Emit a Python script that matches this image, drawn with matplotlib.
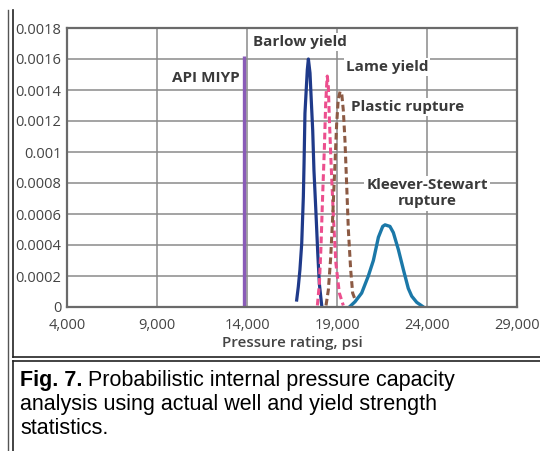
import matplotlib.pyplot as plt
from matplotlib.lines import Line2D

# valores
api_miyp_x = 13850
api_miyp_top = 0.00162

barlow_x = [16760, 16850, 16940, 17040, 17130, 17170, 17220, 17280, 17350, 17410,
            17500, 17560, 17650, 17720, 17830, 17930, 18020, 18150]
barlow_y = [0.000045, 0.00013, 0.00024, 0.00041, 0.00071, 0.00093, 0.00125, 0.00138, 0.00153, 0.0016,
            0.00151, 0.00136, 0.00114, 0.00088, 0.00061, 0.00035, 0.00015, 0.00001]

lame_x = [17910, 18020, 18110, 18200, 18300, 18370, 18430, 18460, 18520, 18570,
          18670, 18800, 18940, 19130, 19350]
lame_y = [0.00001, 0.00015, 0.00039, 0.00071, 0.00103, 0.00131, 0.00144, 0.00149, 0.00142, 0.00123,
          0.00093, 0.00058, 0.00028, 0.00009, 0.00001]

plastic_x = [18390, 18520, 18650, 18760, 18890, 18980, 19070, 19170, 19260, 19350,
             19440, 19540, 19630, 19760, 19870, 20000]
plastic_y = [0.00001, 0.00011, 0.00032, 0.00058, 0.00093, 0.00118, 0.00134, 0.00139, 0.00138, 0.00127,
             0.00108, 0.00078, 0.0005, 0.00024, 0.00009, 0.00005]

kleever_x = [19690, 20000, 20370, 20740, 21020, 21300, 21540, 21670, 21940, 22130,
             22410, 22690, 22960, 23150, 23430, 23800]
kleever_y = [0.0, 0.000034, 0.00009, 0.0002, 0.0003, 0.00045, 0.00052, 0.00053, 0.00052, 0.00048,
             0.00037, 0.00024, 0.00012, 0.00007, 0.00003, 0.0]

x_ticks = [4000, 9000, 14000, 19000, 24000, 29000]
x_tick_labels = ['4,000', '9,000', '14,000', '19,000', '24,000', '29,000']
y_ticks = [0, 0.0002, 0.0004, 0.0006, 0.0008, 0.001, 0.0012, 0.0014, 0.0016, 0.0018]
y_tick_labels = ['0', '0.0002', '0.0004', '0.0006', '0.0008', '0.001', '0.0012', '0.0014', '0.0016', '0.0018']

W, H = 540, 451
fig = plt.figure(figsize=(W / 100, H / 100), dpi=100)
fig.patch.set_facecolor('white')

ax = fig.add_axes([67 / W, 1 - 307 / H, 450 / W, 279 / H])
ax.set_xlim(4000, 29000)
ax.set_ylim(0, 0.0018)

ax.set_xticks(x_ticks)
ax.set_xticklabels(x_tick_labels)
ax.set_yticks(y_ticks)
ax.set_yticklabels(y_tick_labels)
ax.tick_params(length=0, labelsize=10.5, labelcolor='#444444')
ax.tick_params(axis='x', pad=8)
ax.tick_params(axis='y', pad=4)
for lbl in ax.get_xticklabels() + ax.get_yticklabels():
    lbl.set_family('Open Sans')
ax.grid(True, color='#8a8a8a', linewidth=1.1)
ax.set_axisbelow(True)
for s in ax.spines.values():
    s.set_color('#6a6a6a')
    s.set_linewidth(1.6)

ax.set_xlabel('Pressure rating, psi', family='Open Sans', fontweight='semibold',
              fontsize=11, color='#444444', labelpad=2)

# curvas
ax.plot([api_miyp_x, api_miyp_x], [0, api_miyp_top], color='#8a5cb8', lw=2.4, solid_capstyle='butt')
ax.plot(barlow_x, barlow_y, color='#1f3a8a', lw=2.3)
ax.plot(lame_x, lame_y, color='#ec4f8e', lw=2.2, dashes=(2.2, 1.2))
ax.plot(plastic_x, plastic_y, color='#8c5a44', lw=2.2, dashes=(2.2, 1.2))
ax.plot(kleever_x, kleever_y, color='#1b78a8', lw=2.4)

# rotulos
caixa = dict(facecolor='white', edgecolor='none', pad=1.5)
estilo = dict(family='Open Sans', fontweight='bold', fontsize=11, color='#3a3a3a')
ax.text(13600, 0.00148, 'API MIYP', ha='right', va='center', **estilo)
ax.text(16944, 0.00171, 'Barlow yield', ha='center', va='center', bbox=caixa, **estilo)
ax.text(21778, 0.001548, 'Lame yield', ha='center', va='center', bbox=caixa, **estilo)
ax.text(22944, 0.00129, 'Plastic rupture', ha='center', va='center', bbox=caixa, **estilo)
ax.text(24000, 0.000733, 'Kleever-Stewart\nrupture', ha='center', va='center',
        linespacing=1.2, bbox=caixa, **estilo)

# bordas da tabela da pagina
def linha(x0, y0, x1, y1, cor, lw):
    fig.add_artist(Line2D([x0 / W, x1 / W], [1 - y0 / H, 1 - y1 / H],
                          color=cor, lw=lw, transform=fig.transFigure))

linha(7.5, 10, 7.5, H, '#555555', 1.0)
linha(12.5, 10, 12.5, 356.5, '#222222', 1.2)
linha(12.5, 360.5, 12.5, H, '#222222', 1.2)
linha(12.5, 356.5, W, 356.5, '#222222', 1.2)
linha(12.5, 360.5, W, 360.5, '#222222', 1.2)

# legenda da figura
cap = dict(family='Liberation Sans', fontsize=15.5, color='black')
t1 = fig.text(20 / W, 1 - 386 / H, 'Fig. 7.', fontweight='bold', va='baseline', **cap)
ax.annotate(' Probabilistic internal pressure capacity', xy=(1, 0), xycoords=t1,
            va='bottom', ha='left', annotation_clip=False, **cap)
fig.text(20 / W, 1 - 410 / H, 'analysis using actual well and yield strength', va='baseline', **cap)
fig.text(20 / W, 1 - 434 / H, 'statistics.', va='baseline', **cap)

fig.savefig('out.png', dpi=100)
